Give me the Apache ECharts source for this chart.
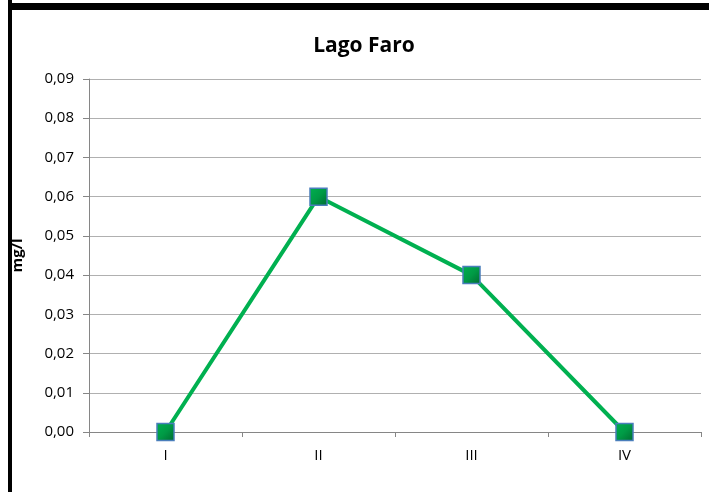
<!DOCTYPE html>
<html>
<head>
<meta charset="utf-8">
<script src="https://cdn.jsdelivr.net/npm/echarts@6/dist/echarts.min.js"></script>
<style>
html,body{margin:0;padding:0;background:#fff;}
#chart{width:709px;height:492px;}
</style>
</head>
<body>
<div id="chart"></div>
<script>
const categories = ['I', 'II', 'III', 'IV'];
const values = [0.00, 0.06, 0.04, 0.00];
const chartTitle = 'Lago Faro';
const yName = 'mg/l';

const FONT = '"Open Sans", sans-serif';
const chart = echarts.init(document.getElementById('chart'), null, {renderer: 'canvas'});
chart.setOption({
  animation: false,
  backgroundColor: '#ffffff',
  title: {
    text: chartTitle,
    left: 359, top: 31, textAlign: 'center',
    textStyle: {fontFamily: FONT, fontWeight: 'bold', fontSize: 21, color: '#000'}
  },
  grid: {left: 89, right: 8, top: 79, bottom: 60},
  xAxis: {
    type: 'category',
    data: categories,
    boundaryGap: true,
    axisLine: {lineStyle: {color: '#868686', width: 1}},
    axisTick: {show: true, length: 5, lineStyle: {color: '#868686'}},
    axisLabel: {margin: 16, fontFamily: FONT, fontSize: 15, color: '#000'},
    splitLine: {show: false}
  },
  yAxis: {
    type: 'value',
    min: 0, max: 0.09, interval: 0.01,
    name: yName,
    nameLocation: 'middle',
    nameGap: 64,
    nameTextStyle: {fontFamily: FONT, fontWeight: 'bold', fontSize: 15, color: '#000'},
    axisLine: {show: true, lineStyle: {color: '#868686', width: 1}},
    axisTick: {show: true, length: 6, lineStyle: {color: '#868686'}},
    axisLabel: {
      margin: 15, fontFamily: FONT, fontSize: 15, color: '#000',
      formatter: v => v.toFixed(2).replace('.', ',')
    },
    splitLine: {show: true, lineStyle: {color: '#b0b0b0', width: 1}}
  },
  series: [{
    type: 'line',
    data: values,
    lineStyle: {color: '#00b050', width: 4},
    symbol: 'rect',
    symbolSize: 17,
    showAllSymbol: true,
    itemStyle: {
      color: new echarts.graphic.LinearGradient(0, 0, 1, 1, [
        {offset: 0, color: '#00b050'},
        {offset: 0.5, color: '#009a45'},
        {offset: 1, color: '#006a30'}
      ]),
      borderColor: '#4a7ebb',
      borderWidth: 1.5
    },
    z: 3
  }],
  graphic: [
    {type: 'rect', shape: {x: 8, y: 3, width: 701, height: 7}, style: {fill: '#000'}, z: 100},
    {type: 'rect', shape: {x: 8, y: 0, width: 4, height: 492}, style: {fill: '#000'}, z: 100}
  ]
});
</script>
</body>
</html>
